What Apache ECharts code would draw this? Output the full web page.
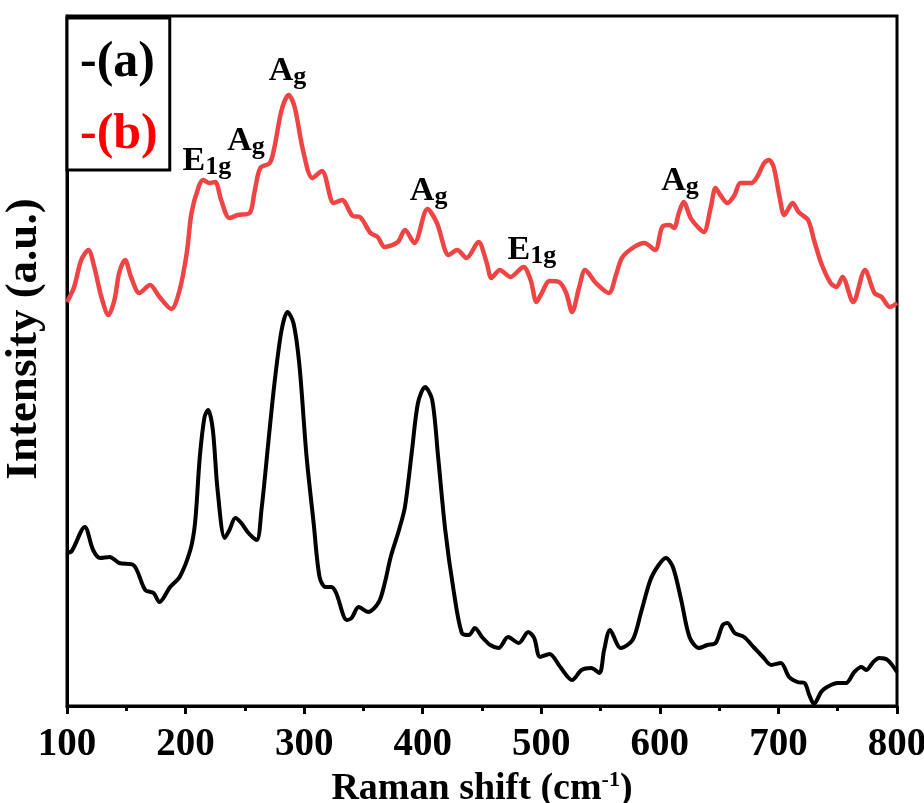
<!DOCTYPE html>
<html>
<head>
<meta charset="utf-8">
<script src="https://cdn.jsdelivr.net/npm/echarts@6/dist/echarts.min.js"></script>
<style>
  html, body { margin: 0; padding: 0; background: #fff; }
  #chart { width: 924px; height: 803px; }
</style>
</head>
<body>
<div id="chart"></div>
<script>
// ---- Data (Raman shift in cm^-1, intensity in arbitrary units) ----
const xTicks = [100, 200, 300, 400, 500, 600, 700, 800];

const shiftA = [100, 104, 115, 122, 128, 136, 144, 156, 166, 173, 178, 187, 195, 204, 208, 212, 216, 219, 223, 227, 233, 237, 242, 247, 253, 260, 264, 270, 275, 281, 286, 291, 296, 302, 308, 313, 318, 323, 327, 336, 340, 346, 354, 363, 368, 373, 380, 385, 391, 396, 402, 408, 413, 419, 426, 433, 439, 444, 450, 457, 464, 472, 481, 489, 494, 499, 507, 516, 526, 534, 542, 549, 553, 558, 567, 577, 584, 592, 599, 605, 611, 618, 625, 633, 640, 647, 653, 657, 663, 671, 679, 687, 694, 702, 709, 716, 722, 726, 730, 736, 741, 750, 757, 764, 770, 774, 780, 785, 792, 800];
const intensityA = [153, 155, 179, 156, 148, 149, 143, 141, 116, 113, 104, 119, 129, 156, 183, 249, 289, 296, 276, 216, 168, 176, 188, 183, 173, 166, 196, 266, 323, 376, 394, 383, 341, 250, 183, 129, 119, 119, 113, 86, 88, 99, 94, 104, 123, 149, 176, 199, 256, 303, 319, 306, 249, 176, 116, 73, 71, 78, 69, 61, 58, 69, 63, 74, 68, 49, 52, 39, 26, 36, 38, 33, 56, 76, 58, 66, 93, 126, 141, 148, 139, 106, 69, 58, 61, 63, 81, 83, 73, 69, 59, 49, 41, 43, 29, 24, 23, 11, 2, 14, 19, 23, 23, 34, 39, 36, 44, 48, 46, 34];

const shiftB = [100, 106, 112, 118, 123, 129, 135, 140, 144, 149, 154, 161, 170, 178, 188, 195, 201, 205, 211, 215, 220, 225, 230, 237, 244, 254, 258, 263, 271, 275, 281, 287, 292, 299, 307, 315, 325, 332, 341, 347, 356, 362, 368, 379, 385, 393, 404, 412, 422, 429, 437, 447, 454, 458, 465, 474, 485, 491, 496, 500, 507, 515, 521, 526, 532, 537, 546, 557, 563, 568, 577, 587, 596, 602, 608, 612, 616, 620, 626, 632, 637, 643, 647, 651, 657, 663, 668, 677, 682, 688, 692, 696, 701, 705, 712, 717, 725, 730, 736, 744, 749, 754, 763, 773, 781, 787, 794, 800];
const intensityB = [404, 419, 446, 456, 439, 409, 391, 406, 433, 446, 429, 413, 421, 409, 397, 416, 453, 493, 519, 526, 523, 524, 506, 488, 491, 493, 513, 538, 543, 559, 596, 611, 599, 556, 528, 535, 503, 506, 490, 489, 473, 469, 459, 464, 476, 463, 497, 483, 451, 456, 448, 464, 443, 428, 436, 429, 439, 426, 404, 412, 425, 424, 413, 394, 419, 436, 423, 413, 431, 448, 458, 463, 456, 479, 481, 478, 493, 504, 488, 479, 474, 499, 518, 511, 503, 511, 523, 523, 529, 543, 546, 539, 509, 491, 503, 494, 486, 466, 443, 423, 419, 429, 404, 436, 413, 409, 399, 403];

// Peak assignment labels (symbol, subscript, Raman shift, intensity level)
const peakMain = ['E', 'A', 'A', 'A', 'E', 'A'];
const peakSub = ['1g', 'g', 'g', 'g', '1g', 'g'];
const peakShift = [218, 251, 286, 405, 492, 617];
const peakLevel = [545, 565, 635, 515, 456, 525];

const seriesNames = ['-(a)', '-(b)'];

// ---- Chart ----
const FONT = "'Liberation Serif', 'Times New Roman', serif";
const chart = echarts.init(document.getElementById('chart'), null, { renderer: 'canvas' });

const pairs = (xs, ys) => xs.map((x, i) => [x, ys[i]]);

const markData = peakMain.map((m, i) => ({
  coord: [peakShift[i], peakLevel[i]],
  label: { formatter: '{m|' + m + '}{s|' + peakSub[i] + '}' }
}));

chart.setOption({
  animation: false,
  backgroundColor: '#fff',
  grid: {
    left: 67, right: 27, top: 16, bottom: 97,
    containLabel: false, outerBoundsMode: 'none',
    show: true, borderColor: '#000', borderWidth: 3, backgroundColor: 'transparent'
  },
  legend: {
    orient: 'vertical', left: 67, top: 18,
    icon: 'rect', itemWidth: 0, itemHeight: 0, itemGap: 22,
    padding: [20, 12, 10, 8],
    borderColor: '#000', borderWidth: 3, borderRadius: 0, backgroundColor: '#fff',
    selectedMode: false,
    textStyle: { fontFamily: FONT, fontSize: 50, fontWeight: 'bold', color: '#000' },
    data: [
      { name: seriesNames[0], textStyle: { color: '#000' } },
      { name: seriesNames[1], textStyle: { color: '#ff0000' } }
    ]
  },
  xAxis: {
    type: 'value', min: 100, max: 800, interval: 100,
    name: '{m|Raman shift (cm}{s|-1}{m|)}',
    nameLocation: 'middle', nameGap: 58,
    nameTextStyle: {
      rich: {
        m: { fontFamily: FONT, fontSize: 38, fontWeight: 'bold', color: '#000' },
        s: { fontFamily: FONT, fontSize: 22, fontWeight: 'bold', color: '#000', verticalAlign: 'bottom', padding: [0, 0, 18, 0] }
      }
    },
    axisLine: { show: true, lineStyle: { color: '#000', width: 3 } },
    axisTick: { show: true, inside: false, length: 8, lineStyle: { color: '#000', width: 3 } },
    minorTick: { show: true, splitNumber: 2, length: 5, lineStyle: { color: '#000', width: 3 } },
    axisLabel: {
      show: true, margin: 19, color: '#000',
      fontFamily: FONT, fontSize: 39, fontWeight: 'bold',
      customValues: xTicks
    },
    splitLine: { show: false }
  },
  yAxis: {
    type: 'value', min: 0, max: 690,
    name: 'Intensity (a.u.)',
    nameLocation: 'middle', nameGap: 20,
    nameTextStyle: { fontFamily: FONT, fontSize: 45, fontWeight: 'bold', color: '#000', padding: [0, 0, 0, 44] },
    axisLine: { show: true, lineStyle: { color: '#000', width: 3 } },
    axisTick: { show: false },
    axisLabel: { show: false },
    splitLine: { show: false }
  },
  series: [
    {
      name: seriesNames[0], type: 'line',
      data: pairs(shiftA, intensityA),
      showSymbol: false, smooth: 0.3,
      lineStyle: { color: '#000', width: 4 },
      itemStyle: { color: '#000' }
    },
    {
      name: seriesNames[1], type: 'line',
      data: pairs(shiftB, intensityB),
      showSymbol: false, smooth: 0.3,
      lineStyle: { color: '#ee4444', width: 4.5 },
      itemStyle: { color: '#ee4444' },
      markPoint: {
        symbol: 'circle', symbolSize: 0, silent: true,
        label: {
          show: true, position: 'inside',
          rich: {
            m: { fontFamily: FONT, fontSize: 34, fontWeight: 'bold', color: '#000' },
            s: { fontFamily: FONT, fontSize: 26, fontWeight: 'bold', color: '#000', verticalAlign: 'bottom', padding: [12, 0, 0, 0] }
          }
        },
        data: markData
      }
    }
  ]
});
</script>
</body>
</html>
